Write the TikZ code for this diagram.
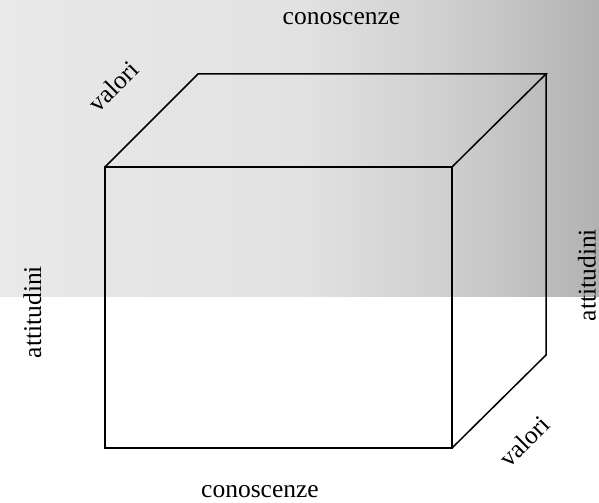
\documentclass[tikz,border=0pt]{standalone}
\usepackage{fontspec}
\setmainfont{Liberation Serif}
\definecolor{bgA}{HTML}{E9E9E9}
\definecolor{bgB}{HTML}{E2E2E2}
\definecolor{bgC}{HTML}{CFCFCF}
\definecolor{bgD}{HTML}{B2B2B2}
\pgfdeclarehorizontalshading{bgshade}{100bp}{color(0bp)=(bgA); color(25bp)=(bgA); color(50bp)=(bgB); color(62.5bp)=(bgC); color(75bp)=(bgD); color(100bp)=(bgD)}
\tikzset{
  lbl/.style={inner sep=0pt, font=\fontsize{25.5bp}{30bp}\selectfont},
  edge/.style={draw=black, line width=1.5bp, line join=miter}
}
\begin{document}
\begin{tikzpicture}[x=1bp,y=1bp]
\useasboundingbox (0,0) rectangle (599,503);
\fill[white] (0,0) rectangle (599,503);
\shade[shading=bgshade] (0,206) rectangle (599,503);
% cube corners
\coordinate (ftl) at (105,336);
\coordinate (ftr) at (452,336);
\coordinate (fbr) at (452,55);
\coordinate (fbl) at (105,55);
\coordinate (btl) at (198,429);
\coordinate (btr) at (546,429);
\coordinate (bbr) at (546,148);
\draw[edge] (fbl) -- (ftl) -- (ftr) -- (fbr) -- cycle;
\draw[edge] (ftl) -- (btl) -- (btr) -- (ftr);
\draw[edge] (btr) -- (bbr) -- (fbr);
% labels
\node[lbl, anchor=base] (ctop) at (341.5,478) {conoscenze};
\node[lbl, anchor=base] (cbot) at (260,5.3) {conoscenze};
\node[lbl, anchor=base, rotate=90] (aleft) at (41,191) {attitudini};
\node[lbl, anchor=base, rotate=90] (aright) at (595.5,228) {attitudini};
\node[lbl, rotate=45] (vtop) at (113,417) {valori};
\node[lbl, rotate=45] (vbot) at (524,62) {valori};
\end{tikzpicture}
\end{document}
